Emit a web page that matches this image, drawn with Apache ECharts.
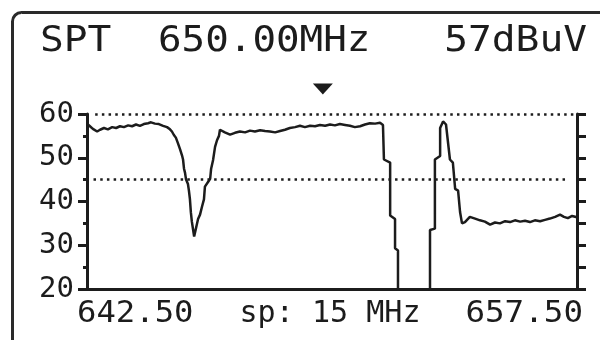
<!DOCTYPE html>
<html><head><meta charset="utf-8">
<script src="https://cdn.jsdelivr.net/npm/echarts@6/dist/echarts.min.js"></script>
<style>html,body{margin:0;padding:0;background:#fff}#c{width:600px;height:340px}</style>
</head><body><div id="c"></div>
<script>
// ---- data ----
const freqMHz = [
642.50,642.59,642.68,642.81,642.90,643.02,643.14,643.27,643.39,643.51,
643.63,643.76,643.88,644.00,644.12,644.24,644.37,644.46,644.58,644.70,
644.83,644.95,645.04,645.10,645.16,645.22,645.28,645.35,645.41,645.44,
645.47,645.50,645.53,645.59,645.62,645.65,645.68,645.71,645.78,645.84,
645.90,645.96,646.02,646.08,646.11,646.21,646.27,646.30,646.36,646.42,
646.48,646.54,646.57,646.63,646.72,646.88,647.03,647.18,647.34,647.49,
647.64,647.80,647.95,648.10,648.26,648.41,648.56,648.71,648.87,649.02,
649.17,649.33,649.48,649.63,649.79,649.94,650.09,650.24,650.40,650.55,
650.70,650.86,651.01,651.16,651.32,651.47,651.56,651.59,651.78,651.78,
651.93,651.93,652.02,652.02,653.00,653.00,653.15,653.15,653.31,653.31,
653.40,653.49,653.55,653.61,653.70,653.77,653.86,653.92,653.98,654.07,
654.22,654.38,654.53,654.68,654.84,654.99,655.14,655.30,655.45,655.60,
655.76,655.91,656.06,656.21,656.37,656.52,656.67,656.83,656.98,657.10,
657.22,657.35,657.50];
const levelDbuV = [
57.8,57.2,56.6,56.0,56.4,56.8,56.5,57.0,56.8,57.2,
57.0,57.4,57.2,57.6,57.3,57.7,57.9,58.1,57.8,57.7,
57.3,57.0,56.5,56.0,55.2,54.6,53.4,51.9,50.5,49.6,
47.5,46.6,45.1,44.0,42.5,40.6,37.5,35.4,32.0,34.0,
36.0,37.0,38.8,40.5,43.4,44.5,45.2,47.5,49.5,52.5,
54.0,55.0,56.4,56.6,55.8,55.3,55.7,56.0,55.8,56.2,
56.0,56.3,56.1,56.0,55.8,56.1,56.4,56.8,57.0,57.3,
57.0,57.3,57.2,57.5,57.3,57.6,57.4,57.7,57.5,57.3,
57.0,57.2,57.6,57.9,57.8,58.0,57.5,49.6,48.9,36.8,
36.0,29.3,28.8,15,15,33.5,33.8,49.6,50.4,56.8,
58.3,57.6,57.2,49.6,48.9,42.9,42.5,37.6,35.0,35.3,
36.5,36.1,35.7,35.4,34.7,35.2,35.0,35.5,35.3,35.7,
35.4,35.6,35.3,35.7,35.5,35.8,36.1,36.5,37.0,36.5,
36.2,36.7,36.4];
const yRange = [20, 60];
const xRange = [642.5, 657.5];
const refLevels = [60, 45];
const markerFreq = 649.72;
const headerTexts = ['SPT', '650.00MHz', '57dBuV'];
const xEdgeLabels = ['642.50', '657.50'];
const spanLabel = 'sp: 15 MHz';

// ---- chart ----
const INK = '#1c1c1c';
const FONT = '"DejaVu Sans Mono"';
const chart = echarts.init(document.getElementById('c'), null, {renderer: 'canvas'});
const pts = freqMHz.map((f, i) => [f, levelDbuV[i]]);

function txt(text, x, y, size, align, sx) {
  return {type: 'text', x: x, y: y, scaleX: sx, silent: true,
    style: {text: text, font: size + 'px ' + FONT, fill: INK,
      textAlign: align, textVerticalAlign: 'middle'}};
}

chart.setOption({
  animation: false,
  backgroundColor: '#fff',
  grid: {left: 87, right: 23, top: 114, bottom: 51, containLabel: false, outerBoundsMode: 'none'},
  xAxis: {type: 'value', min: xRange[0], max: xRange[1],
    axisLine: {show: true, onZero: false, lineStyle: {color: INK, width: 3}},
    axisTick: {show: false}, axisLabel: {show: false}, splitLine: {show: false}},
  yAxis: [
    {type: 'value', min: yRange[0], max: yRange[1], interval: 10, position: 'left',
      axisLine: {show: true, onZero: false, lineStyle: {color: INK, width: 3}},
      axisTick: {show: true, length: 9, lineStyle: {color: INK, width: 3}},
      minorTick: {show: true, splitNumber: 2, length: 4, lineStyle: {color: INK, width: 3}},
      splitLine: {show: false},
      axisLabel: {color: INK, fontFamily: 'DejaVu Sans Mono', fontSize: 29, margin: 13}},
    {type: 'value', min: yRange[0], max: yRange[1], interval: 5, position: 'right',
      axisLine: {show: true, onZero: false, lineStyle: {color: INK, width: 3}},
      axisTick: {show: true, length: 9, lineStyle: {color: INK, width: 3}},
      splitLine: {show: false}, axisLabel: {show: false}}
  ],
  series: [{
    type: 'line', data: pts, yAxisIndex: 0, showSymbol: false, clip: true,
    lineStyle: {color: INK, width: 2.5}, silent: true,
    markLine: {silent: true, symbol: ['none', 'none'], label: {show: false},
      lineStyle: {color: INK, width: 2.5, type: [2.5, 4.2]},
      data: [
        [{coord: [642.75, refLevels[0]]}, {coord: [657.45, refLevels[0]]}],
        [{coord: [642.70, refLevels[1]]}, {coord: [657.20, refLevels[1]]}]
      ]},
    markPoint: {silent: true, symbol: 'triangle', symbolRotate: 180, symbolSize: [20, 11],
      itemStyle: {color: INK}, label: {show: false},
      data: [{coord: [markerFreq, 60], y: 89}]}
  }],
  graphic: [
    {type: 'rect', silent: true, shape: {x: 12.5, y: 12.5, width: 620, height: 360, r: 9},
      style: {fill: 'none', stroke: '#2a2a2a', lineWidth: 3}},
    txt(headerTexts[0], 40, 41.5, 35, 'left', 1.13),
    txt(headerTexts[1], 158, 41.5, 35, 'left', 1.12),
    txt(headerTexts[2], 587, 41.5, 35, 'right', 1.13),
    txt(xEdgeLabels[0], 77, 313.5, 31, 'left', 1.04),
    txt(spanLabel, 330, 313.5, 31, 'center', 0.97),
    txt(xEdgeLabels[1], 583, 313.5, 31, 'right', 1.05)
  ]
});
</script></body></html>
